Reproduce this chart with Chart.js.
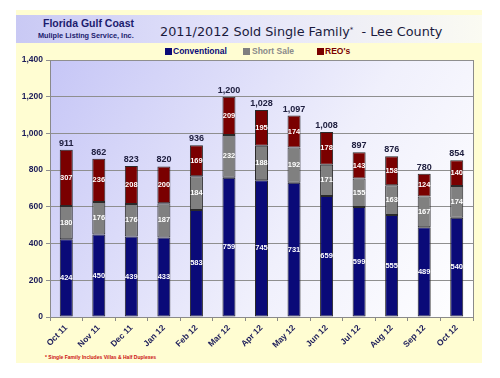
<!DOCTYPE html>
<html><head><meta charset="utf-8">
<script src="https://cdn.jsdelivr.net/npm/chart.js@4.4.1/dist/chart.umd.min.js"></script>
<style>
html,body{margin:0;padding:0;background:#fff;width:500px;height:378px;overflow:hidden;}
#panel{position:absolute;left:16px;top:10px;width:466px;height:353px;background:#fffdd2;}
#band{position:absolute;left:16px;top:15px;width:466px;height:28px;background:linear-gradient(to right,#c9c9f4 0%,#e3e3fa 45%,#fbfbf2 100%);}
.t{position:absolute;white-space:nowrap;font-family:"Liberation Sans",Arial,sans-serif;font-weight:bold;}
#h1{left:43px;top:17px;font-size:10.5px;color:#1c1c6e;}
#h2{left:38px;top:31px;font-size:7.3px;color:#1c1c6e;}
#title{left:160px;top:24px;font-family:"DejaVu Sans",sans-serif;font-weight:normal;font-size:12.8px;color:#1a1a3c;}
#title sup{font-size:7px;vertical-align:4px;}
.lg{position:absolute;top:46px;font-size:8.5px;}
.sq{position:absolute;top:48px;width:7px;height:7px;}
#foot{left:45px;top:354px;font-size:5px;color:#cc1111;}
#c{position:absolute;left:0;top:0;}
</style></head><body>
<div id="panel"></div>
<div id="band"></div>
<div class="t" id="h1">Florida Gulf Coast</div>
<div class="t" id="h2">Muliple Listing Service, Inc.</div>
<div class="t" id="title">2011/2012 Sold Single Family<sup>*</sup>&nbsp; - Lee County</div>
<div class="sq" style="left:165px;background:#0a0a78"></div><div class="t lg" style="left:173px;color:#0a0a78">Conventional</div>
<div class="sq" style="left:243px;background:#7f7f7f"></div><div class="t lg" style="left:252px;color:#8a8a8a">Short Sale</div>
<div class="sq" style="left:317px;background:#7a0000"></div><div class="t lg" style="left:325px;color:#7a0000">REO's</div>
<div class="t" id="foot">* Single Family Includes Villas &amp; Half Duplexes</div>
<canvas id="c" width="500" height="378"></canvas>
<script>
const categories = ["Oct 11","Nov 11","Dec 11","Jan 12","Feb 12","Mar 12","Apr 12","May 12","Jun 12","Jul 12","Aug 12","Sep 12","Oct 12"];
const conventional = [424,450,439,433,583,759,745,731,659,599,555,489,540];
const shortSale = [180,176,176,187,184,232,188,192,171,155,163,167,174];
const reos = [307,236,208,200,169,209,195,174,178,143,158,124,140];
const totalLabels = ["911","862","823","820","936","1,200","1,028","1,097","1,008","897","876","780","854"];
const yTicks = [0,200,400,600,800,1000,1200,1400];

const bgPlugin = {
  id:'bg',
  beforeDraw(chart){
    const {ctx, chartArea:a} = chart;
    const g = ctx.createLinearGradient(a.left, a.top, a.right, a.bottom);
    g.addColorStop(0,'#c6c6f6');
    g.addColorStop(0.6,'#f0f0fc');
    g.addColorStop(1,'#ffffff');
    ctx.save(); ctx.fillStyle = g; ctx.fillRect(a.left,a.top,a.right-a.left,a.bottom-a.top);
    ctx.strokeStyle='#8a8a8a'; ctx.lineWidth=1;
    ctx.beginPath(); ctx.moveTo(a.right+0.5,a.top); ctx.lineTo(a.right+0.5,a.bottom); ctx.stroke();
    ctx.restore();
  }
};
const labelPlugin = {
  id:'lbl',
  afterDatasetsDraw(chart){
    const ctx = chart.ctx;
    ctx.save();
    ctx.textAlign='center'; ctx.textBaseline='middle';
    chart.data.datasets.forEach((ds,di)=>{
      const meta = chart.getDatasetMeta(di);
      meta.data.forEach((bar,i)=>{
        const y = (bar.y + bar.base)/2;
        ctx.font = 'bold 7.5px "Liberation Sans", Arial, sans-serif';
        ctx.fillStyle = '#ffffff';
        ctx.fillText(String(ds.data[i]), bar.x, y);
      });
    });
    const top = chart.getDatasetMeta(2);
    ctx.font = 'bold 9px "Liberation Sans", Arial, sans-serif';
    ctx.fillStyle = '#202040';
    ctx.textBaseline='bottom';
    top.data.forEach((bar,i)=>{ ctx.fillText(totalLabels[i], bar.x, bar.y-2); });
    ctx.restore();
  }
};
const bw = 0.4;
new Chart(document.getElementById('c'), {
  type:'bar',
  data:{labels:categories, datasets:[
    {label:'Conventional', data:conventional, backgroundColor:'#0a0a78', borderColor:'#2a2a2a', borderWidth:1, categoryPercentage:1, barPercentage:bw, borderSkipped:false},
    {label:'Short Sale', data:shortSale, backgroundColor:'#808080', borderColor:'#2a2a2a', borderWidth:1, categoryPercentage:1, barPercentage:bw, borderSkipped:false},
    {label:"REO's", data:reos, backgroundColor:'#7a0000', borderColor:'#2a2a2a', borderWidth:1, categoryPercentage:1, barPercentage:bw, borderSkipped:false}
  ]},
  options:{
    responsive:false, animation:false,
    layout:{padding:{left:16,top:60,right:27,bottom:0}},
    plugins:{legend:{display:false}, tooltip:{enabled:false}},
    scales:{
      x:{stacked:true, offset:true,
        grid:{drawOnChartArea:false, offset:true, tickLength:4, color:'#8a8a8a'},
        border:{color:'#8a8a8a'},
        ticks:{maxRotation:45, minRotation:45, color:'#1c1c5a', font:{family:'"Liberation Sans", Arial, sans-serif', size:8.5, weight:'bold'}, padding:2},
        afterFit(s){ s.height = 61; }
      },
      y:{stacked:true, min:0, max:1400,
        afterBuildTicks(s){ s.ticks = yTicks.map(v=>({value:v})); },
        grid:{color:'#8f8f8f', tickLength:4},
        border:{color:'#8a8a8a'},
        ticks:{color:'#1c1c5a', font:{family:'"Liberation Sans", Arial, sans-serif', size:8.5, weight:'bold'}, padding:3,
          callback:v=>v.toLocaleString('en-US')},
        afterFit(s){ s.width = 34; }
      }
    }
  },
  plugins:[bgPlugin,labelPlugin]
});
</script>
</body></html>
